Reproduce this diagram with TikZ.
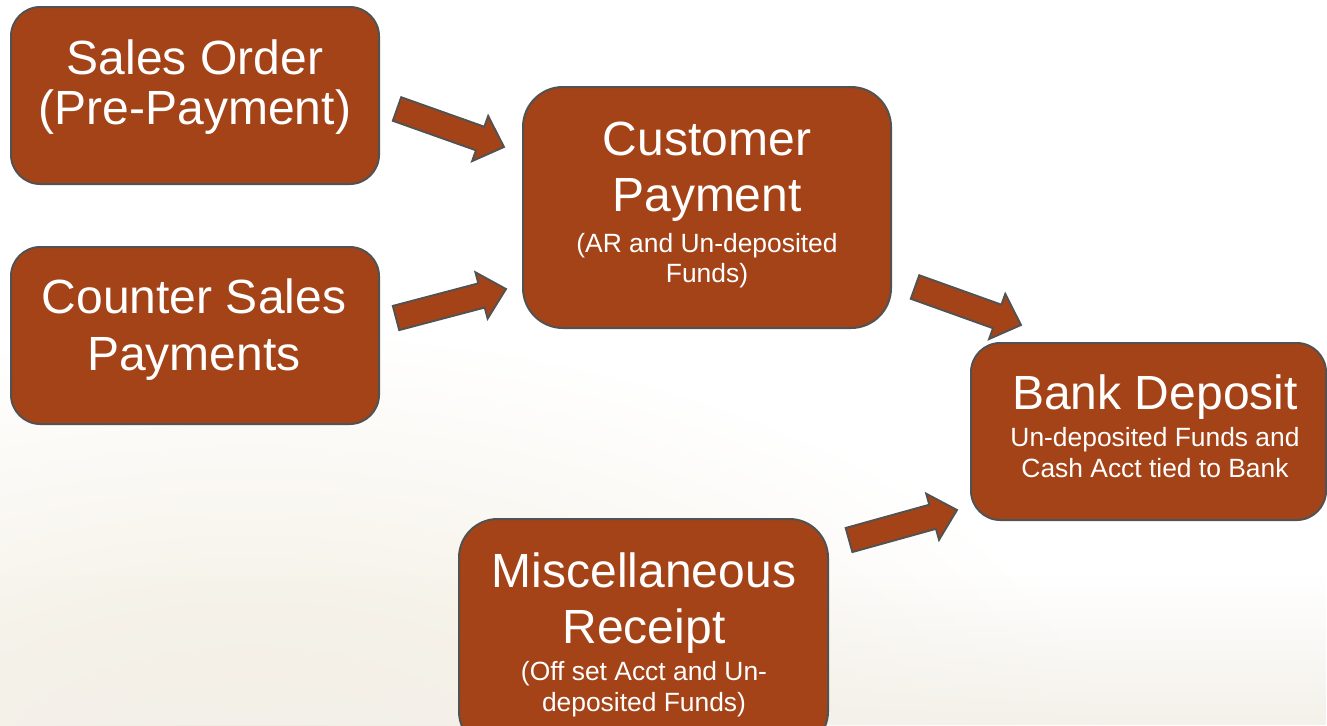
\documentclass[tikz,border=0pt]{standalone}
\usepackage{fontspec}
\setmainfont{Liberation Sans}
\usetikzlibrary{calc,fadings}
\definecolor{brick}{RGB}{164,67,24}
\definecolor{edge}{RGB}{82,82,82}
\definecolor{beige}{RGB}{240,234,219}
\definecolor{beigelight}{RGB}{244,241,234}
\newcommand{\bigtxt}[1]{\fontsize{36}{#1}\selectfont\spaceskip=.278em\xspaceskip=.278em\relax}
\newcommand{\smtxt}{\fontsize{19.8}{23}\selectfont\spaceskip=.278em\xspaceskip=.278em\relax}
\begin{document}
\begin{tikzpicture}[x=0.75pt,y=-0.75pt,
  box/.style={draw=edge, fill=brick, line width=1.5pt, rounded corners=#1, inner sep=0pt},
  box/.default=22pt,
  txt/.style={text=white, text width=270pt, align=center, inner sep=0pt},
  blk/.style={fill=brick, draw=edge, line width=1.4pt, line join=miter,
    to path={
      ($(\tikztostart)!9.4pt!90:(\tikztotarget)$)
      -- ($(\tikztotarget)!19pt!(\tikztostart)!9.4pt!-90:(\tikztostart)$)
      -- ($(\tikztotarget)!19pt!(\tikztostart)!18pt!-90:(\tikztostart)$)
      -- (\tikztotarget)
      -- ($(\tikztotarget)!19pt!(\tikztostart)!18pt!90:(\tikztostart)$)
      -- ($(\tikztotarget)!19pt!(\tikztostart)!9.4pt!90:(\tikztostart)$)
      -- ($(\tikztostart)!9.4pt!-90:(\tikztotarget)$)
      -- cycle}}]
\useasboundingbox (0,0) rectangle (1327,725);
% background
\begin{scope}
  \clip (0,0) rectangle (1327,725);
  \fill[white] (0,0) rectangle (1327,725);
  \shade[inner color=beige, outer color=white] (250,790) ellipse [x radius=660pt, y radius=350pt];
  \fill[beigelight, path fading=north] (0,575) rectangle (1327,725);
\end{scope}
% boxes
\node[box, minimum width=276pt, minimum height=132.75pt] (so) at (195,95.5) {};
\node[box, minimum width=276pt, minimum height=132.75pt] (cs) at (195,335.5) {};
\node[box=30pt, minimum width=276pt, minimum height=180.75pt] (cp) at (707,207.5) {};
\node[box, minimum width=266.25pt, minimum height=132.75pt] (bd) at (1148.5,431.5) {};
\node[box=29pt, minimum width=276.75pt, minimum height=173.25pt] (mr) at (643.5,634.5) {};
% texts
\node[txt] (soT) at (195,87) {\bigtxt{38pt}Sales Order\\(Pre-Payment)\par};
\node[txt] (csT) at (194,329.5) {\bigtxt{43pt}Counter Sales\\Payments\par};
\node[txt] (cpT) at (707,205) {{\bigtxt{42pt}Customer\\Payment\par}{\smtxt\vspace{7.75pt}(AR and Un-deposited\\Funds)\par}};
\node[txt] (bdT) at (1155,426) {{\bigtxt{42pt}Bank Deposit\par}{\smtxt\vspace{4.75pt}Un-deposited Funds and\\Cash Acct tied to Bank\par}};
\node[txt] (mrT) at (644,635) {{\bigtxt{42pt}Miscellaneous\\Receipt\par}{\smtxt\vspace{4.75pt}(Off set Acct and Un-\\deposited Funds)\par}};
% arrow end points
\coordinate (a1s) at (397,109);  \coordinate (a1e) at (504,147);
\coordinate (a2s) at (396,318);  \coordinate (a2e) at (506,289);
\coordinate (a3s) at (915,287);  \coordinate (a3e) at (1021,325);
\coordinate (a4s) at (849,540);  \coordinate (a4e) at (957,510);
\draw[blk] (a1s) to (a1e);
\draw[blk] (a2s) to (a2e);
\draw[blk] (a3s) to (a3e);
\draw[blk] (a4s) to (a4e);
\end{tikzpicture}
\end{document}
